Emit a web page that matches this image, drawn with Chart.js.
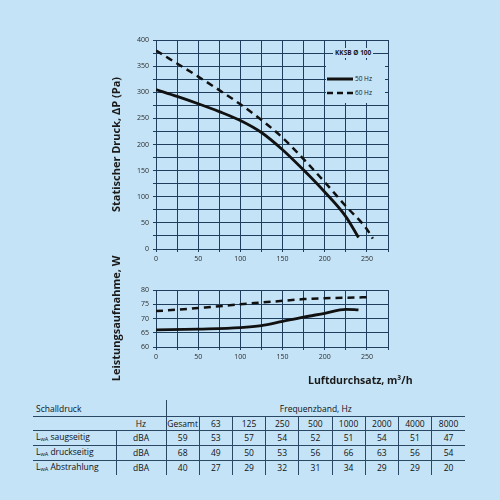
<!DOCTYPE html>
<html>
<head>
<meta charset="utf-8">
<script src="https://cdn.jsdelivr.net/npm/chart.js@4"></script>
<style>
  html, body { margin: 0; padding: 0; }
  body { width: 500px; height: 500px; background: #c4e3f6; position: relative; overflow: hidden;
         font-family: "Open Sans", "Noto Sans", sans-serif; color: #1a1a1a; }
  #druckWrap { position: absolute; left: 100px; top: 30px; width: 300px; height: 235px; }
  #leistWrap { position: absolute; left: 100px; top: 248px; width: 300px; height: 145px; }
  #xTitle { position: absolute; left: 308px; top: 373px; font-size: 10.5px; font-weight: 700; }
  #legTitle { position: absolute; left: 333px; top: 48px; padding: 0 2px; background: #c4e3f6;
              font-size: 6.5px; font-weight: 700; line-height: 10px; }
  #legBox { position: absolute; left: 326px; top: 60px; width: 59px; height: 43px; background: #c4e3f6;
            font-size: 6.5px; }
  #legBox svg { position: absolute; left: 0; top: 0; }
  #legBox span { position: absolute; left: 29px; }
  table { position: absolute; left: 33px; top: 400px; width: 432px; border-collapse: collapse;
          table-layout: fixed; font-size: 8.5px; color: #111; }
  td { padding: 0; height: 12.5px; text-align: center; border: 0; white-space: nowrap; line-height: 11px; }
  tr.head1 td { height: 16px; border-bottom: 1px solid #2a4763; }
  tr.rule td { border-bottom: 1px solid #2a4763; }
  td.lab { text-align: left; padding-left: 3px; }
  td.sep { border-right: 1px solid #2a4763; }
  sub { font-size: 5.5px; vertical-align: -1px; }
</style>
</head>
<body>
<div id="druckWrap"><canvas id="druckChart"></canvas></div>
<div id="leistWrap"><canvas id="leistChart"></canvas></div>
<div id="xTitle">Luftdurchsatz, m³/h</div>
<div id="legTitle">KKSB Ø 100</div>
<div id="legBox">
  <svg width="30" height="43">
    <line x1="1" y1="19" x2="27" y2="19" stroke="#111" stroke-width="3"/>
    <line x1="1" y1="33" x2="27" y2="33" stroke="#111" stroke-width="2.5" stroke-dasharray="6,4"/>
  </svg>
  <span style="top:14px">50 Hz</span>
  <span style="top:28px">60 Hz</span>
</div>
<table id="schall"></table>

<script>
// Kennlinie Druck
const flow50 = [0, 25, 50, 75, 100, 125, 150, 175, 200, 225, 240];
const druck50 = [305, 292, 278, 263, 246, 223, 190, 151, 109, 62, 22];
const flow60 = [0, 25, 50, 75, 100, 125, 150, 175, 200, 225, 250, 257];
const druck60 = [380, 355, 330, 304, 277, 247, 213, 172, 128, 82, 38, 20];

// Leistungsaufnahme
const pFlow50 = [0, 50, 100, 125, 150, 175, 200, 225, 240];
const leistung50 = [66, 66.3, 66.8, 67.5, 69, 70.5, 71.8, 73.2, 73];
const pFlow60 = [0, 25, 50, 75, 100, 125, 150, 175, 200, 225, 255];
const leistung60 = [72.6, 73.1, 73.7, 74.3, 75, 75.6, 76.2, 76.8, 77.1, 77.3, 77.5];

// Schalldruck Tabelle
const bands = ["Gesamt", "63", "125", "250", "500", "1000", "2000", "4000", "8000"];
const rowNames = ["saugseitig", "druckseitig", "Abstrahlung"];
const saugseitig = [59, 53, 57, 54, 52, 51, 54, 51, 47];
const druckseitig = [68, 49, 50, 53, 56, 66, 63, 56, 54];
const abstrahlung = [40, 27, 29, 32, 31, 34, 29, 29, 20];

const gridColor = "#1f3d5c";
const tickFont = { family: "Open Sans", size: 7 };
const titleFont = { family: "Open Sans", size: 11, weight: "bold" };

const pts = (xs, ys) => xs.map((x, i) => ({ x: x, y: ys[i] }));

function lineSet(data, dashed) {
  return {
    data: data,
    borderColor: "#111",
    borderWidth: dashed ? 2.5 : 2.8,
    borderDash: dashed ? [7, 5] : [],
    pointRadius: 0,
    cubicInterpolationMode: "monotone",
    fill: false
  };
}

function xScale() {
  return {
    type: "linear", min: 0, max: 275,
    border: { color: gridColor, width: 1 },
    grid: { color: gridColor, lineWidth: 1, tickLength: 3 },
    ticks: {
      stepSize: 25, color: "#2b2b2b", font: tickFont, padding: 3, maxRotation: 0, autoSkip: false,
      callback: v => (v % 50 === 0 && v <= 250) ? v : ""
    },
    afterFit: s => { s.height = 16; }
  };
}

function yScale(min, max, step, every, title) {
  return {
    type: "linear", min: min, max: max,
    border: { color: gridColor, width: 1 },
    grid: { color: gridColor, lineWidth: 1, tickLength: 3 },
    ticks: {
      stepSize: step, color: "#2b2b2b", font: tickFont, padding: 4, autoSkip: false,
      callback: v => (v % every === 0) ? v : ""
    },
    title: { display: true, text: title, color: "#1a1a1a", font: titleFont, padding: { top: 10, bottom: 0 } },
    afterFit: s => { s.width = 56; }
  };
}

// Diagramm Druck
new Chart(document.getElementById("druckChart"), {
  type: "line",
  data: {
    datasets: [lineSet(pts(flow50, druck50), false), lineSet(pts(flow60, druck60), true)]
  },
  options: {
    responsive: true, maintainAspectRatio: false, animation: false,
    layout: { padding: { top: 10, right: 12, left: 0, bottom: 0 } },
    plugins: { legend: { display: false }, tooltip: { enabled: false } },
    scales: {
      x: xScale(),
      y: yScale(0, 400, 25, 50, "Statischer Druck, \u0394P (Pa)")
    }
  }
});

// Diagramm Leistung
new Chart(document.getElementById("leistChart"), {
  type: "line",
  data: {
    datasets: [lineSet(pts(pFlow50, leistung50), false), lineSet(pts(pFlow60, leistung60), true)]
  },
  options: {
    responsive: true, maintainAspectRatio: false, animation: false,
    layout: { padding: { top: 42, right: 12, left: 0, bottom: 30 } },
    plugins: { legend: { display: false }, tooltip: { enabled: false } },
    scales: {
      x: xScale(),
      y: yScale(60, 80, 5, 5, "Leistungsaufnahme, W")
    }
  }
});

// Tabelle aufbauen
const table = document.getElementById("schall");
let html = '<colgroup><col style="width:83px"><col style="width:50px">' +
  bands.map(() => '<col style="width:33.2px">').join("") + '</colgroup>';
html += '<tr class="head1"><td class="lab" colspan="2" style="border-right:1px solid #2a4763">Schalldruck</td>' +
  '<td colspan="9">Frequenzband, Hz</td></tr>';
html += '<tr class="rule"><td></td><td class="sep">Hz</td>' +
  bands.map((b, i) => '<td' + (i < bands.length - 1 ? ' class="sep"' : '') + '>' + b + '</td>').join("") + '</tr>';
[saugseitig, druckseitig, abstrahlung].forEach((vals, r) => {
  html += '<tr' + (r < 2 ? ' class="rule"' : '') + '><td class="lab sep">L<sub>wA</sub> ' + rowNames[r] +
    '</td><td class="sep">dBA</td>' +
    vals.map((v, i) => '<td' + (i < vals.length - 1 ? ' class="sep"' : '') + '>' + v + '</td>').join("") + '</tr>';
});
table.innerHTML = html;
</script>
</body>
</html>
